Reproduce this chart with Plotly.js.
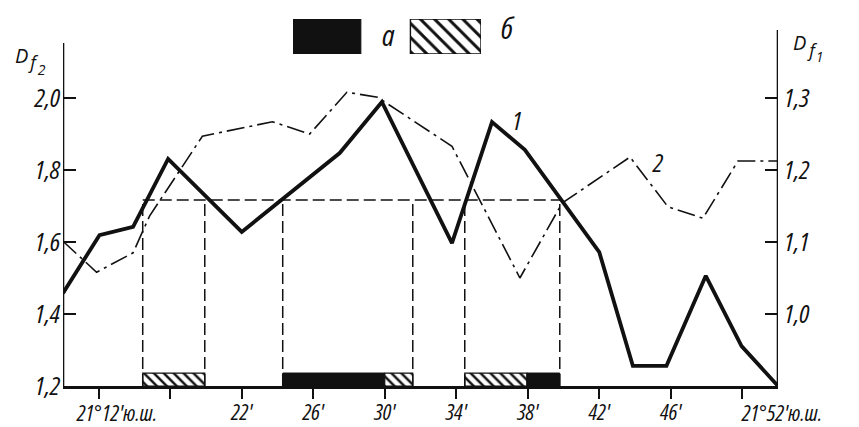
<!DOCTYPE html>
<html><head><meta charset="utf-8">
<script src="https://cdn.plot.ly/plotly-3.0.1.min.js"></script>
<style>html,body{margin:0;padding:0;background:#fff}
text{font-stretch:75% !important;}
g.annotation[data-index="6"] text, g.annotation[data-index="7"] text, g.annotation[data-index="8"] text,
g.annotation[data-index="9"] text, g.annotation[data-index="10"] text, g.annotation[data-index="11"] text{font-stretch:100% !important;}</style>
</head><body>
<div id="chart" style="width:859px;height:427px"></div>
<script>
// ---- data (x in station-index units; tick i = i-th labelled latitude mark) ----
const tickVals  = [0,1,2,3,4,5,6,7,8,9];
const tickText  = ["", "", "22'", "26'", "30'", "34'", "38'", "42'", "46'", ""];
const longLabels = ["21°12'ю.ш.", "21°52'ю.ш."];
const longLabelX = [-0.34, 8.96];

const leftTickVals = [1.2, 1.4, 1.6, 1.8, 2.0];
const leftTickText = ["1,2", "1,4", "1,6", "1,8", "2,0"];
const rightTickVals = [1.0, 1.1, 1.2, 1.3];
const rightTickText = ["1,0", "1,1", "1,2", "1,3"];

// curve 1: Df2 (left axis)
const x1 = [-0.5, 0.01, 0.48, 0.97, 2.0, 3.37, 3.96, 4.94, 5.5, 5.96, 7.0, 7.47, 7.94, 8.49, 8.99, 9.5];
const y1 = [1.458, 1.619, 1.642, 1.831, 1.628, 1.847, 1.989, 1.597, 1.933, 1.856, 1.572, 1.256, 1.256, 1.506, 1.311, 1.2];

// curve 2: Df1 (right axis)
const x2 = [-0.5, -0.03, 0.48, 0.71, 1.45, 2.43, 2.95, 3.47, 3.90, 4.94, 5.89, 6.48, 7.43, 7.96, 8.45, 8.94, 9.5];
const y2 = [1.101, 1.058, 1.085, 1.136, 1.247, 1.267, 1.25, 1.308, 1.301, 1.233, 1.05, 1.154, 1.218, 1.149, 1.133, 1.2125, 1.2125];

// threshold level (left axis) and zone boundaries
const thresholdLevel = 1.717;
const thresholdFrom = 0.615, thresholdTo = 6.476;
const zoneEdges = [0.615, 1.483, 2.573, 4.392, 5.119, 6.448];

// bottom bars: a (black) and б (hatched)
const barAStart = [2.573, 5.986];
const barAEnd   = [4.0,   6.448];
const barBStart = [0.615, 4.0,   5.119];
const barBEnd   = [1.483, 4.392, 5.986];
const barBase = 1.2, barHeight = 0.036;

const curveLabels = ["1", "2"];
const curveLabelX = [5.85, 7.82];
const curveLabelY = [1.94, 1.822];

// ---- layout geometry ----
const W = 859, H = 427;
const mL = 63, mR = 81, mT = 15, mB = 41;
const plotH = H - mT - mB;            // 371
const pxPerUnitL = 360 / 1.0;         // 72 px per 0.2
const yTop = 1.2 + plotH / pxPerUnitL;
const toRight = v => v / 2 + 0.3;
const px2paperX = px => (px - mL) / (W - mL - mR);
const px2paperY = py => (H - mB - py) / plotH;

const fontFam = "Open Sans, Noto Sans, DejaVu Sans, sans-serif";
const tf = (s) => ({family: fontFam, size: s, color: "#111", style: "italic"});

const traces = [];
const mids = (s, e) => s.map((v, i) => (v + e[i]) / 2);
const wids = (s, e) => s.map((v, i) => e[i] - v);

traces.push({
  type: "bar", x: mids(barAStart, barAEnd), width: wids(barAStart, barAEnd),
  y: barAStart.map(() => barHeight), base: barBase,
  marker: {color: "#111", line: {color: "#111", width: 1}}, showlegend: false, hoverinfo: "skip"
});
traces.push({
  type: "bar", x: mids(barBStart, barBEnd), width: wids(barBStart, barBEnd),
  y: barBStart.map(() => barHeight), base: barBase,
  marker: {color: "#fff", line: {color: "#111", width: 1.2},
           pattern: {shape: "\\", fgcolor: "#111", bgcolor: "#fff", size: 7, solidity: 0.35}},
  showlegend: false, hoverinfo: "skip"
});
traces.push({
  type: "scatter", mode: "lines", x: x2, y: y2, yaxis: "y2",
  line: {color: "#111", width: 1.6, dash: "18px,5px,3px,5px"}, showlegend: false
});
traces.push({
  type: "scatter", mode: "lines", x: x1, y: y1,
  line: {color: "#111", width: 3.8}, showlegend: false
});
// legend boxes on a small helper axis
traces.push({
  type: "bar", x: [0.5], y: [1], width: [1], xaxis: "x3", yaxis: "y3",
  marker: {color: "#111", line: {color: "#111", width: 1}}, showlegend: false, hoverinfo: "skip"
});
traces.push({
  type: "bar", x: [2.25], y: [1], width: [1.04], xaxis: "x3", yaxis: "y3",
  marker: {color: "#fff", line: {color: "#111", width: 1.4},
           pattern: {shape: "\\", fgcolor: "#111", bgcolor: "#fff", size: 10, solidity: 0.3}},
  showlegend: false, hoverinfo: "skip"
});

const shapes = [];
shapes.push({type: "line", xref: "x", yref: "y", x0: thresholdFrom, x1: thresholdTo,
  y0: thresholdLevel, y1: thresholdLevel, line: {color: "#111", width: 1.5, dash: "12px,5px"}});
zoneEdges.forEach(e => shapes.push({type: "line", xref: "x", yref: "y", x0: e, x1: e,
  y0: 1.2, y1: thresholdLevel, line: {color: "#111", width: 1.5, dash: "12px,5px"}}));
// axis lines
shapes.push({type: "line", xref: "x", yref: "y", x0: -0.5, x1: -0.5, y0: 1.2, y1: 2.153,
  line: {color: "#111", width: 2.6}});
shapes.push({type: "line", xref: "x", yref: "y", x0: 9.5, x1: 9.5, y0: 1.2, y1: 2.189,
  line: {color: "#111", width: 2.6}});

const annotations = [];
longLabels.forEach((t, i) => annotations.push({text: t, x: longLabelX[i], xref: "x",
  y: 0, yref: "paper", yanchor: "top", xanchor: "left", yshift: -9, showarrow: false, font: tf(22)}));
curveLabels.forEach((t, i) => annotations.push({text: t, x: curveLabelX[i], xref: "x",
  y: curveLabelY[i], yref: "y", xanchor: "center", yanchor: "middle", showarrow: false, font: tf(26)}));

// pixel-placed texts: legend letters and axis titles
const pixTexts = [
  ["а", 388, 34, 30], ["б", 508, 28, 30],
  ["D", 21, 55, 20], ["f", 33, 62, 18], ["2", 41, 69, 14],
  ["D", 800, 42, 20], ["f", 812, 50, 18], ["1", 819, 57, 14]
];
pixTexts.forEach(([t, px, py, s]) => annotations.push({text: t, x: px2paperX(px), y: px2paperY(py),
  xref: "paper", yref: "paper", xanchor: "center", yanchor: "middle", showarrow: false, font: tf(s)}));

const layout = {
  width: W, height: H,
  margin: {l: mL, r: mR, t: mT, b: mB, pad: 0},
  paper_bgcolor: "#fff", plot_bgcolor: "#fff",
  barmode: "overlay", bargap: 0,
  xaxis: {range: [-0.5, 9.5], tickvals: tickVals, ticktext: tickText,
    ticks: "outside", ticklen: 10, tickwidth: 2, tickcolor: "#111",
    showline: true, linecolor: "#111", linewidth: 2.6, showgrid: false, zeroline: false,
    tickfont: tf(22), ticklabelstandoff: -5, fixedrange: true},
  yaxis: {range: [1.2, yTop], tickvals: leftTickVals, ticktext: leftTickText,
    ticks: "inside", ticklen: 13, tickwidth: 2, tickcolor: "#111",
    showline: false, showgrid: false, zeroline: false, tickfont: tf(26), ticklabelstandoff: 2},
  yaxis2: {range: [toRight(1.2), toRight(yTop)], overlaying: "y", side: "right",
    tickvals: rightTickVals, ticktext: rightTickText,
    ticks: "inside", ticklen: 13, tickwidth: 2, tickcolor: "#111",
    showline: false, showgrid: false, zeroline: false, tickfont: tf(26), ticklabelstandoff: 5},
  xaxis3: {domain: [px2paperX(293), px2paperX(481)], range: [0, 2.77], anchor: "y3",
    visible: false, fixedrange: true},
  yaxis3: {domain: [px2paperY(54), px2paperY(19)], range: [0, 1], anchor: "x3",
    visible: false, fixedrange: true},
  shapes: shapes, annotations: annotations, showlegend: false
};
Plotly.newPlot("chart", traces, layout, {staticPlot: true});
</script>
</body></html>
